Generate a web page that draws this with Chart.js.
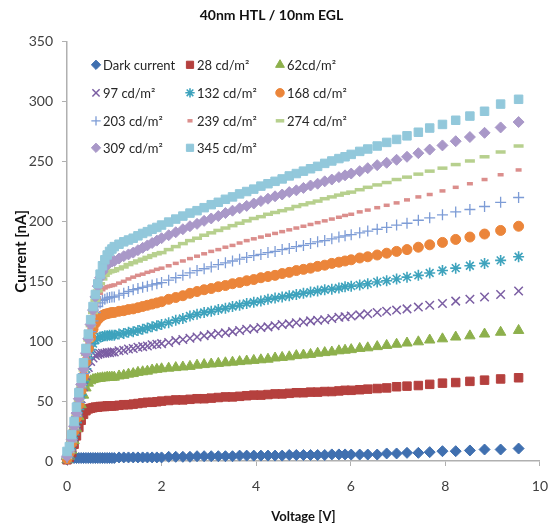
<!DOCTYPE html>
<html>
<head>
<meta charset="utf-8">
<script src="https://cdn.jsdelivr.net/npm/chart.js@4.4.1/dist/chart.umd.min.js"></script>
<style>
  html, body { margin: 0; padding: 0; background: #fff; }
  #wrap { width: 560px; height: 527px; }
</style>
</head>
<body>
<div id="wrap"><canvas id="ivChart" width="560" height="527"></canvas></div>
<script>
// Voltage sweep [V] (steps get wider at higher bias)
const voltage = [0, 0.05, 0.1, 0.15, 0.2, 0.25, 0.3, 0.35, 0.4, 0.45, 0.5, 0.55, 0.6, 0.65, 0.7, 0.75, 0.8, 0.85, 0.9, 0.95, 1.0,
  1.1, 1.2, 1.3, 1.4, 1.5, 1.6, 1.7, 1.8, 1.9, 2.0,
  2.15, 2.3, 2.45, 2.6, 2.75, 2.9, 3.05, 3.2, 3.35, 3.5, 3.65, 3.8, 3.95,
  4.1, 4.25, 4.4, 4.55, 4.7, 4.85, 5.0, 5.15, 5.3, 5.45, 5.6, 5.75, 5.88,
  6.01, 6.19, 6.36, 6.56, 6.76, 6.97, 7.19, 7.43, 7.67, 7.94, 8.22, 8.52, 8.83, 9.17, 9.55];

// Current [nA] per illumination level
const darkCurrent = [1.5, 2.5, 2.5, 2.5, 2.5, 2.5, 2.5, 2.5, 2.5, 2.5, 2.5, 2.5, 2.5, 2.5, 2.5, 2.5, 2.5, 2.5, 2.5, 2.5, 2.5,
  3, 3, 3, 3, 3, 3, 3, 3, 3, 3,
  3.5, 3.5, 3.5, 3.5, 4, 4, 4, 4, 4, 4, 4.5, 4.5, 4.5,
  4.5, 4.5, 4.5, 4.5, 5, 5, 5, 5, 5, 5, 5.5, 5.5, 5.5,
  5.4, 5.4, 5.4, 5.4, 6.3, 6.3, 6.8, 6.8, 7.4, 8.2, 8.2, 8.8, 9.6, 9.6, 10.4];
const lum28 = [1, 3, 7, 14, 21, 28, 34, 39, 42, 43.5, 44, 44.5, 45, 45, 45.5, 45.5, 45.5, 46, 46, 46, 46,
  46.5, 47, 47, 47.5, 48, 48.5, 49, 49, 49.5, 50,
  50.5, 51, 51, 51.5, 52, 52, 52.5, 53, 53.5, 53.5, 54, 54.5, 55,
  55, 55.5, 56, 56, 56.5, 57, 57, 57.5, 57.5, 58, 58, 58.5, 59,
  59, 59.5, 60, 60.5, 61, 62, 62.5, 63, 64, 65, 65.5, 66.5, 67.5, 68.5, 69.5];
const lum62 = [1, 4, 9, 17, 27, 37, 47, 55, 61, 65, 67, 68, 68.5, 69, 69, 69.5, 69.5, 70, 70, 70, 70,
  71, 71.5, 72.5, 73, 74, 74.5, 75, 76, 76.5, 77,
  77.5, 78, 78.5, 79, 80, 80.5, 81, 81.5, 82, 82.5, 83, 83.5, 84,
  84.5, 85, 86, 86.5, 87, 88, 88.5, 89, 90, 90.5, 91, 92, 92.5,
  93, 94, 94.5, 95.5, 96.5, 97.5, 98.5, 99.5, 101, 102, 103.5, 104.5, 106, 107.5, 109];
const lum97 = [2, 5, 11, 20, 30, 41, 52, 62, 71, 78, 83, 86, 88, 89, 89.5, 90, 90, 90.5, 90.5, 91, 91,
  92, 92.5, 93.5, 94, 95, 95.5, 96, 97, 97.5, 98,
  99, 100.5, 101.5, 102.5, 103.5, 104.5, 105.5, 106.5, 107, 108, 109, 110, 110.5,
  111.5, 112, 113, 114, 114.5, 115.5, 116, 117, 117.5, 118, 119, 120, 120.5,
  121, 122, 123, 124, 125, 126, 127, 128.5, 130, 131.5, 133.5, 135, 137, 139, 142];
const lum132 = [2, 6, 13, 22, 32, 43, 55, 66, 77, 86, 93, 98, 101, 102.5, 103.5, 104, 104.5, 104.5, 105, 105, 105,
  106, 106.5, 107.5, 108, 109, 110, 111, 112, 113, 114,
  115.5, 117.5, 119, 121, 122.5, 124, 125, 126.5, 127.5, 129, 130, 131.5, 132.5,
  133.5, 135, 136, 137, 138, 139, 140, 141, 142, 143, 143.5, 144.5, 145.5,
  146, 147, 148, 149.5, 150.5, 152, 153.5, 155, 157, 159, 161, 163, 165, 167.5, 170.5];
const lum168 = [2, 7, 15, 25, 36, 47, 59, 71, 83, 94, 103, 110, 115, 118, 120, 121.5, 122.5, 123, 123.5, 124, 124,
  125, 125.5, 126.5, 127, 128, 129, 130, 131, 132, 133,
  135, 136.5, 138, 140, 141.5, 143, 144, 145.5, 146.5, 148, 149, 150.5, 151.5,
  153, 154, 155, 156.5, 157.5, 159, 160, 161, 162.5, 163.5, 165, 166, 167,
  168, 169.5, 170.5, 172, 173.5, 175, 176.5, 178.5, 180.5, 182.5, 185, 187, 189.5, 192.5, 196];
const lum203 = [3, 7, 16, 26, 37, 49, 61, 73, 85, 97, 108, 117, 124, 129, 132, 134, 135, 136, 136.5, 137, 137,
  138.5, 140, 141.5, 143, 144, 145, 146, 147, 148, 149,
  151, 153, 155, 157, 159, 160.5, 162, 164, 165.5, 167, 168.5, 170, 171.5,
  172.5, 174, 175, 176.5, 177.5, 179, 180, 181.5, 183, 184, 185.5, 187, 188,
  189, 190.5, 192, 193.5, 195, 197, 198.5, 201, 203, 205.5, 208, 210, 212.5, 216, 220];
const lum239 = [3, 8, 17, 27, 38, 50, 62, 75, 87, 99, 111, 121, 130, 136, 140, 143, 144.5, 145.5, 146, 146.5, 147,
  148.5, 150, 152, 153.5, 155, 156, 157.5, 158.5, 160, 161,
  163, 165, 167, 169, 171, 173, 175, 176.5, 178.5, 180, 182, 184, 185.5,
  187, 188.5, 190, 191.5, 193, 194.5, 196, 197.5, 199, 200.5, 202, 203.5, 205,
  206, 208, 209.5, 211.5, 213.5, 215.5, 218, 220.5, 222.5, 225.5, 228.5, 231.5, 235, 239, 243];
const lum274 = [3, 8, 17, 28, 39, 51, 63, 76, 89, 101, 113, 124, 134, 142, 148, 152, 155, 157, 158, 158.5, 159,
  160.5, 162, 164, 165.5, 167, 168.5, 170, 171.5, 173, 174,
  176.5, 179, 181.5, 184, 186, 188.5, 190.5, 192.5, 194.5, 196.5, 198.5, 200.5, 202.5,
  204, 206, 207.5, 209, 210.5, 212.5, 214, 215.5, 217, 219, 220.5, 222, 223.5,
  224.5, 226.5, 228.5, 230.5, 232.5, 235, 237, 239.5, 242, 244.5, 247.5, 250.5, 254, 258, 263];
const lum309 = [4, 9, 18, 29, 40, 52, 64, 77, 90, 102, 114, 126, 137, 146, 153, 158, 161.5, 164, 165.5, 166.5, 167,
  169, 171, 172.5, 174, 176, 178, 180, 182, 184, 186,
  188.5, 191, 193.5, 196, 198, 200.5, 202.5, 204.5, 207, 209, 211, 213, 215,
  217, 219, 221, 222.5, 224.5, 226, 228, 230, 231.5, 233.5, 235, 237, 238.5,
  240, 242, 244.5, 247, 249, 251.5, 254, 257, 260, 263.5, 267, 270.5, 274, 278.5, 283];
const lum345 = [8, 12, 22, 33, 45, 57, 69, 82, 94, 106, 118, 129, 139, 148, 156, 163, 168, 172, 175, 177, 179,
  181, 183, 184.5, 186, 188, 190, 191.5, 193.5, 195, 197,
  199.5, 202, 204.5, 207, 209, 211.5, 214, 216, 218.5, 220.5, 223, 225, 227,
  229.5, 231.5, 233.5, 235.5, 238, 240, 242, 244, 246, 248.5, 250.5, 252.5, 254,
  256, 258.5, 260.5, 263, 266, 268.5, 271.5, 274.5, 278, 281, 284.5, 288, 292, 298, 302];

const seriesLabels = ['Dark current', '28 cd/m²', '62cd/m²', '97 cd/m²', '132 cd/m²', '168 cd/m²',
  '203 cd/m²', '239 cd/m²', '274 cd/m²', '309 cd/m²', '345 cd/m²'];
const seriesValues = [darkCurrent, lum28, lum62, lum97, lum132, lum168, lum203, lum239, lum274, lum309, lum345];
const xTicks = [0, 2, 4, 6, 8, 10];
const yTicks = [0, 50, 100, 150, 200, 250, 300, 350];

// marker look, Excel style
const markers = [
  { style: 'rectRot',  color: '#4070B0', r: 5.5, bw: 1 },
  { style: 'rect',     color: '#B5403E', r: 6,   bw: 1 },
  { style: 'triangle', color: '#8DB04C', r: 6,   bw: 1 },
  { style: 'crossRot', color: '#7B5EA3', r: 6,   bw: 1.5 },
  { style: 'star',     color: '#3EA3BD', r: 5.5, bw: 1.6 },
  { style: 'circle',   color: '#EB853A', r: 5,   bw: 1 },
  { style: 'cross',    color: '#7D9CD6', r: 5.5, bw: 1.3 },
  { style: 'line',     color: '#DB8E8C', r: 3,   bw: 3.5 },
  { style: 'line',     color: '#B7D08E', r: 5,   bw: 3.5 },
  { style: 'rectRot',  color: '#A998C8', r: 5.5, bw: 1 },
  { style: 'rect',     color: '#92C8DB', r: 6,   bw: 1 }
];

const FONT = 'Lato, "Open Sans", sans-serif';
Chart.defaults.font.family = FONT;

const datasets = seriesValues.map((vals, i) => ({
  label: seriesLabels[i],
  data: vals.map((v, k) => ({ x: voltage[k], y: v })),
  showLine: false,
  pointStyle: markers[i].style,
  pointRadius: markers[i].r,
  pointHoverRadius: markers[i].r,
  pointBorderWidth: markers[i].bw,
  borderWidth: markers[i].bw,
  backgroundColor: markers[i].color,
  borderColor: markers[i].color,
  clip: false,
  order: seriesValues.length - i   // brightest series on top
}));

// legend drawn inside the plot, 3 columns
const insideLegend = {
  id: 'insideLegend',
  afterDraw(chart) {
    const ctx = chart.ctx;
    const area = chart.chartArea;
    const colX = [29, 123, 213];
    const rowY = [23, 51, 79, 106];
    ctx.save();
    ctx.font = '13px ' + FONT;
    ctx.textBaseline = 'middle';
    ctx.textAlign = 'left';
    chart.data.datasets.forEach((ds, i) => {
      const x = area.left + colX[i % 3];
      const y = area.top + rowY[Math.floor(i / 3)];
      ctx.fillStyle = ds.backgroundColor;
      ctx.strokeStyle = ds.borderColor;
      ctx.lineWidth = ds.pointBorderWidth;
      Chart.helpers.drawPoint(ctx, {
        pointStyle: ds.pointStyle, radius: ds.pointRadius * 0.85, rotation: 0, borderWidth: ds.pointBorderWidth
      }, x, y);
      ctx.fillStyle = '#262626';
      ctx.fillText(ds.label, x + 7, y + 1);
    });
    ctx.restore();
  }
};

new Chart(document.getElementById('ivChart'), {
  type: 'scatter',
  data: { datasets },
  plugins: [insideLegend],
  options: {
    responsive: false,
    animation: false,
    layout: { padding: { left: 0, right: 17, top: 0, bottom: 0 } },
    plugins: {
      legend: { display: false },
      tooltip: { enabled: false },
      title: {
        display: true,
        text: '40nm HTL / 10nm EGL',
        color: '#111',
        font: { size: 14, weight: 'bold' },
        padding: { top: 7, bottom: 18 }
      }
    },
    scales: {
      x: {
        type: 'linear',
        min: 0,
        max: 10,
        afterBuildTicks: s => { s.ticks = xTicks.map(v => ({ value: v })); },
        afterFit: s => { s.height = 66; },
        ticks: { color: '#404040', font: { size: 14 }, padding: 12 },
        grid: { drawOnChartArea: false, drawTicks: true, tickLength: 5, color: '#B0B0B0' },
        border: { display: true, color: '#B0B0B0', width: 1.5 },
        title: {
          display: true, text: 'Voltage [V]', color: '#111',
          font: { size: 13, weight: 'bold' }, padding: { top: 0, bottom: 2 }
        }
      },
      y: {
        min: 0,
        max: 350,
        afterBuildTicks: s => { s.ticks = yTicks.map(v => ({ value: v })); },
        afterFit: s => { s.width = 67; },
        ticks: { color: '#404040', font: { size: 14 }, padding: 9 },
        grid: { drawOnChartArea: false, drawTicks: true, tickLength: 5, color: '#B0B0B0' },
        border: { display: true, color: '#B0B0B0', width: 1.5 },
        title: {
          display: true, text: 'Current [nA]', color: '#111',
          font: { size: 15, weight: 'bold' }, padding: { top: 12, bottom: 0 }
        }
      }
    }
  }
});
</script>
</body>
</html>
